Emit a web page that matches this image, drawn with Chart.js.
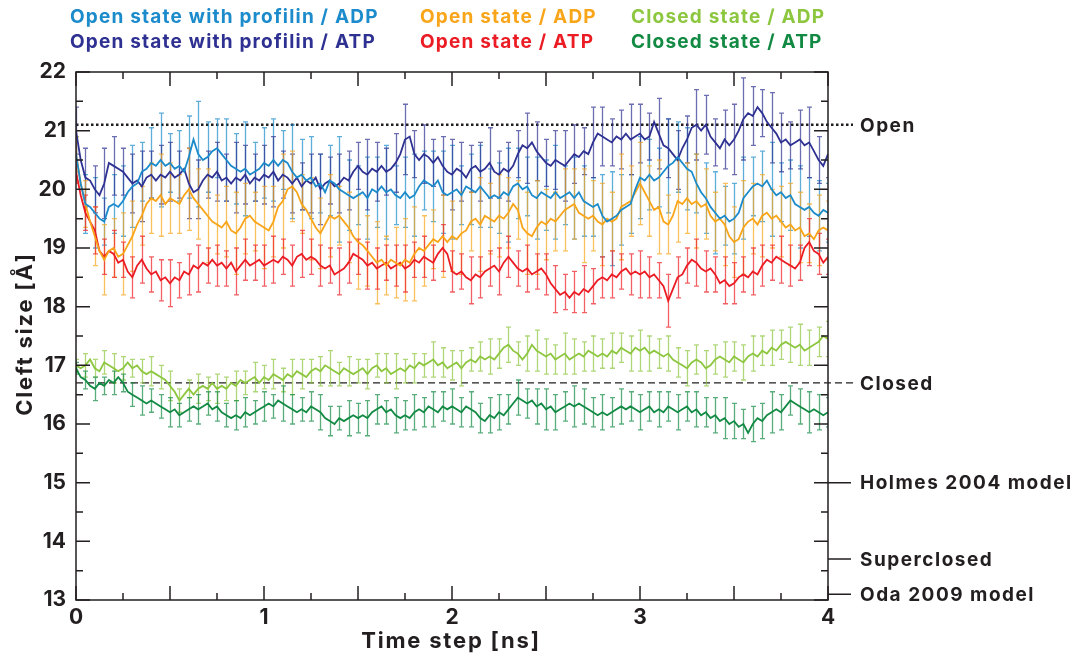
<!DOCTYPE html>
<html>
<head>
<meta charset="utf-8">
<script src="https://cdn.jsdelivr.net/npm/chart.js@4.4.0/dist/chart.umd.min.js"></script>
<style>
  html, body { margin: 0; padding: 0; background: #fff; }
  #wrap { width: 1084px; height: 657px; }
</style>
</head>
<body>
<div id="wrap"><canvas id="cleft" width="1084" height="657"></canvas></div>
<script>
/* ============================================
   Actin cleft size vs. simulation time
   ============================================ */

// sampling step of the traces (ns); error bars on every 2nd sample
const STEP_NS = 0.025;

const seriesNames = [
    'Open state with profilin / ADP', 'Open state with profilin / ATP',
    'Open state / ADP', 'Open state / ATP',
    'Closed state / ADP', 'Closed state / ATP'
];
const seriesColors = ['#1b8bcb', '#2e3192', '#f9a51a', '#ec1c24', '#8dc63f', '#128a43'];

// cleft size [Å], one value per 0.025 ns (each row = 0.5 ns)
const profAdp = [
    20.6, 20.1, 19.75, 19.7, 19.6, 19.5, 19.45, 19.7, 19.75, 19.7, 19.8, 19.95, 20.05, 20.1, 20.3, 20.35, 20.45, 20.4, 20.5, 20.4,
    20.45, 20.35, 20.4, 20.3, 20.55, 20.85, 20.6, 20.5, 20.55, 20.65, 20.7, 20.6, 20.5, 20.4, 20.35, 20.3, 20.35, 20.25, 20.3, 20.35,
    20.45, 20.4, 20.5, 20.4, 20.5, 20.45, 20.3, 20.2, 20.25, 20.15, 20.2, 20.05, 20.1, 19.95, 20.15, 20.1, 20.0, 19.95, 19.9, 19.85,
    19.9, 19.95, 19.85, 20.0, 19.95, 20.05, 19.95, 20.0, 19.9, 19.85, 19.95, 19.85, 19.9, 20.05, 20.15, 20.1, 20.05, 20.15, 19.95, 19.9,
    19.95, 20.0, 19.9, 20.05, 20.0, 19.95, 20.05, 19.95, 19.85, 19.9, 19.85, 19.95, 19.9, 20.05, 20.1, 20.0, 20.05, 19.9, 19.85, 19.95,
    19.9, 19.85, 19.95, 19.85, 19.9, 19.95, 19.85, 19.95, 19.8, 19.75, 19.7, 19.75, 19.55, 19.45, 19.5, 19.55, 19.65, 19.7, 19.75, 20.0,
    20.2, 20.15, 20.25, 20.15, 20.2, 20.3, 20.4, 20.45, 20.55, 20.45, 20.35, 20.3, 20.1, 19.95, 19.85, 19.7, 19.6, 19.5, 19.55, 19.45,
    19.5, 19.6, 19.85, 19.95, 20.05, 20.1, 20.05, 20.15, 20.0, 19.9, 19.95, 19.85, 19.9, 19.75, 19.7, 19.65, 19.7, 19.6, 19.55, 19.65,
    19.6
];
const profAtp = [
    21.0, 20.5, 20.2, 20.15, 20.0, 19.9, 20.1, 20.45, 20.4, 20.35, 20.3, 20.2, 20.1, 20.15, 20.05, 20.2, 20.25, 20.15, 20.25, 20.2,
    20.3, 20.2, 20.25, 20.35, 20.1, 19.95, 20.0, 20.15, 20.25, 20.2, 20.3, 20.15, 20.2, 20.1, 20.2, 20.15, 20.25, 20.1, 20.2, 20.15,
    20.25, 20.2, 20.3, 20.15, 20.25, 20.2, 20.1, 20.2, 20.05, 20.15, 20.1, 20.2, 20.0, 20.1, 20.15, 20.05, 20.1, 20.2, 20.15, 20.3,
    20.4, 20.3, 20.25, 20.35, 20.3, 20.4, 20.3, 20.35, 20.45, 20.6, 20.85, 20.9, 20.6, 20.5, 20.6, 20.55, 20.45, 20.55, 20.4, 20.3,
    20.25, 20.35, 20.3, 20.2, 20.35, 20.4, 20.3, 20.35, 20.45, 20.3, 20.25, 20.35, 20.3, 20.4, 20.6, 20.75, 20.7, 20.8, 20.65, 20.55,
    20.45, 20.4, 20.5, 20.45, 20.4, 20.5, 20.6, 20.55, 20.65, 20.6, 20.8, 20.95, 20.9, 20.85, 20.8, 20.9, 20.85, 20.95, 20.85, 20.9,
    20.95, 20.85, 20.9, 21.15, 20.95, 20.75, 20.7, 20.6, 20.5, 20.7, 20.85, 21.05, 21.1, 21.0, 21.1, 20.9, 20.8, 20.7, 20.85, 20.75,
    20.85, 21.0, 21.2, 21.3, 21.25, 21.4, 21.3, 21.15, 21.05, 20.95, 20.8, 20.85, 20.75, 20.8, 20.85, 20.75, 20.8, 20.65, 20.5, 20.4,
    20.6
];
const openAdp = [
    20.6, 20.1, 19.75, 19.45, 19.2, 18.95, 18.8, 18.95, 19.0, 18.85, 18.9, 19.05, 19.2, 19.4, 19.55, 19.75, 19.85, 19.8, 19.9, 19.75,
    19.85, 19.8, 19.75, 19.9, 20.0, 19.85, 19.75, 19.65, 19.55, 19.45, 19.4, 19.35, 19.45, 19.3, 19.25, 19.35, 19.5, 19.55, 19.45, 19.4,
    19.35, 19.3, 19.45, 19.7, 19.8, 20.0, 20.05, 19.95, 19.75, 19.65, 19.5, 19.35, 19.25, 19.4, 19.55, 19.5, 19.55, 19.45, 19.35, 19.2,
    19.1, 19.05, 18.95, 18.85, 18.75, 18.8, 18.7, 18.8, 18.75, 18.7, 18.8, 18.75, 18.9, 19.0, 18.95, 19.05, 19.15, 19.1, 19.2, 19.1,
    19.2, 19.15, 19.25, 19.3, 19.45, 19.5, 19.4, 19.55, 19.5, 19.45, 19.55, 19.5, 19.6, 19.75, 19.65, 19.35, 19.25, 19.2, 19.35, 19.45,
    19.4, 19.5, 19.45, 19.55, 19.65, 19.7, 19.75, 19.6, 19.55, 19.5, 19.55, 19.45, 19.4, 19.5, 19.45, 19.5, 19.7, 19.75, 19.8, 19.95,
    20.1, 19.95, 19.8, 19.65, 19.7, 19.45, 19.4, 19.55, 19.8, 19.75, 19.85, 19.75, 19.8, 19.7, 19.75, 19.55, 19.45, 19.5, 19.4, 19.2,
    19.1, 19.15, 19.35, 19.45, 19.5, 19.4, 19.55, 19.6, 19.5, 19.55, 19.45, 19.35, 19.4, 19.3, 19.35, 19.2, 19.25, 19.15, 19.3, 19.35,
    19.3
];
const openAtp = [
    20.3, 19.9, 19.6, 19.45, 19.3, 18.95, 18.85, 18.95, 18.9, 18.75, 18.8, 18.6, 18.5, 18.7, 18.8, 18.65, 18.55, 18.6, 18.45, 18.5,
    18.4, 18.5, 18.45, 18.6, 18.55, 18.7, 18.65, 18.75, 18.7, 18.8, 18.7, 18.75, 18.65, 18.75, 18.6, 18.7, 18.8, 18.7, 18.75, 18.8,
    18.7, 18.75, 18.8, 18.75, 18.85, 18.8, 18.7, 18.85, 18.9, 18.8, 18.85, 18.8, 18.7, 18.65, 18.7, 18.55, 18.6, 18.65, 18.75, 18.9,
    18.85, 18.8, 18.7, 18.75, 18.65, 18.7, 18.75, 18.65, 18.7, 18.75, 18.65, 18.7, 18.8, 18.75, 18.85, 18.8, 18.75, 18.9, 19.0, 18.9,
    18.6, 18.55, 18.6, 18.5, 18.45, 18.55, 18.5, 18.6, 18.65, 18.7, 18.6, 18.75, 18.85, 18.75, 18.65, 18.6, 18.65, 18.55, 18.6, 18.65,
    18.55, 18.4, 18.3, 18.2, 18.25, 18.15, 18.25, 18.2, 18.3, 18.25, 18.35, 18.45, 18.5, 18.45, 18.55, 18.5, 18.6, 18.65, 18.55, 18.6,
    18.55, 18.6, 18.5, 18.55, 18.45, 18.35, 18.1, 18.3, 18.5, 18.55, 18.7, 18.8, 18.75, 18.65, 18.6, 18.65, 18.55, 18.4, 18.45, 18.35,
    18.4, 18.5, 18.55, 18.5, 18.6, 18.55, 18.7, 18.8, 18.75, 18.85, 18.8, 18.75, 18.7, 18.65, 18.75, 19.0, 19.1, 18.95, 18.9, 18.75,
    18.85
];
const closedAdp = [
    17.0, 16.95, 17.0, 17.1, 16.95, 16.9, 17.05, 17.0, 16.95, 16.9, 16.95, 17.05, 16.95, 17.0, 16.9, 16.85, 16.9, 16.85, 16.8, 16.75,
    16.65, 16.55, 16.4, 16.5, 16.6, 16.5, 16.6, 16.65, 16.6, 16.7, 16.6, 16.65, 16.6, 16.7, 16.65, 16.75, 16.7, 16.75, 16.8, 16.7,
    16.8, 16.75, 16.85, 16.8, 16.75, 16.85, 16.8, 16.9, 16.85, 16.8, 16.9, 16.95, 16.9, 17.0, 16.95, 16.9, 16.85, 16.95, 16.9, 16.85,
    16.9, 16.95, 16.85, 16.95, 17.0, 16.9, 16.95, 16.85, 16.9, 16.95, 16.9, 17.0, 16.95, 17.05, 17.0, 17.05, 17.1, 17.0, 17.05, 16.95,
    17.0, 17.05, 16.95, 17.05, 17.1, 17.05, 17.15, 17.1, 17.15, 17.1, 17.2, 17.3, 17.35, 17.25, 17.2, 17.1, 17.2, 17.35, 17.25, 17.2,
    17.15, 17.2, 17.1, 17.15, 17.2, 17.1, 17.15, 17.2, 17.15, 17.25, 17.2, 17.15, 17.2, 17.15, 17.25, 17.2, 17.3, 17.25, 17.2, 17.3,
    17.25, 17.3, 17.2, 17.25, 17.2, 17.15, 17.2, 17.1, 17.05, 17.0, 16.95, 17.05, 17.1, 17.05, 16.95, 17.0, 17.1, 17.15, 17.1, 17.05,
    17.15, 17.1, 17.05, 17.15, 17.2, 17.15, 17.25, 17.2, 17.3, 17.25, 17.35, 17.4, 17.35, 17.3, 17.35, 17.25, 17.3, 17.35, 17.4, 17.5,
    17.45
];
const closedAtp = [
    16.95, 16.8, 16.75, 16.65, 16.6, 16.7, 16.65, 16.75, 16.7, 16.8, 16.7, 16.55, 16.5, 16.45, 16.4, 16.35, 16.4, 16.35, 16.3, 16.25,
    16.2, 16.25, 16.15, 16.2, 16.25, 16.3, 16.25, 16.3, 16.35, 16.25, 16.3, 16.2, 16.15, 16.1, 16.15, 16.1, 16.2, 16.15, 16.2, 16.25,
    16.3, 16.35, 16.3, 16.4, 16.35, 16.3, 16.25, 16.2, 16.25, 16.2, 16.3, 16.25, 16.2, 16.1, 16.05, 16.0, 16.1, 16.05, 16.1, 16.15,
    16.1, 16.15, 16.1, 16.2, 16.25, 16.3, 16.2, 16.25, 16.15, 16.1, 16.15, 16.1, 16.2, 16.25, 16.2, 16.3, 16.25, 16.2, 16.3, 16.25,
    16.3, 16.25, 16.2, 16.3, 16.25, 16.2, 16.1, 16.05, 16.15, 16.1, 16.2, 16.15, 16.25, 16.35, 16.45, 16.4, 16.35, 16.4, 16.3, 16.35,
    16.25, 16.3, 16.2, 16.25, 16.3, 16.35, 16.3, 16.35, 16.3, 16.25, 16.2, 16.15, 16.2, 16.15, 16.2, 16.25, 16.3, 16.25, 16.3, 16.25,
    16.2, 16.25, 16.3, 16.2, 16.25, 16.2, 16.3, 16.25, 16.2, 16.25, 16.3, 16.2, 16.25, 16.15, 16.2, 16.1, 16.15, 16.05, 16.1, 16.0,
    16.05, 15.95, 16.0, 15.85, 16.0, 16.1, 16.05, 16.15, 16.2, 16.25, 16.2, 16.3, 16.4, 16.35, 16.3, 16.25, 16.2, 16.25, 16.2, 16.15,
    16.2
];

// error bar half-widths [Å], one per 0.05 ns
const profAdpErr = [
    0.3, 0.5, 0.6, 0.4, 0.5, 0.6, 0.7, 0.5, 0.6, 0.8, 0.5, 0.6, 0.7, 0.9, 0.6, 0.5, 0.7, 0.6, 0.8, 0.5,
    0.6, 0.7, 0.5, 0.8, 0.6, 0.7, 0.5, 0.6, 0.9, 0.6, 0.5, 0.7, 0.6, 0.8, 0.5, 0.6, 0.7, 0.5, 0.6, 0.7,
    0.8, 0.5, 0.6, 0.7, 0.5, 0.6, 0.8, 0.6, 0.5, 0.7, 0.6, 0.8, 0.5, 0.7, 0.6, 0.5, 0.7, 0.8, 0.6, 0.5,
    0.7, 0.6, 0.5, 0.8, 0.6, 0.7, 0.5, 0.6, 0.7, 0.5, 0.6, 0.7, 0.5, 0.6, 0.8, 0.5, 0.6, 0.7, 0.5, 0.6, 0.5
];
const profAtpErr = [
    0.4, 0.5, 0.4, 0.6, 0.5, 0.4, 0.5, 0.6, 0.4, 0.5, 0.5, 0.4, 0.6, 0.5, 0.4, 0.5, 0.4, 0.6, 0.5, 0.4,
    0.5, 0.6, 0.4, 0.5, 0.4, 0.5, 0.6, 0.4, 0.5, 0.5, 0.4, 0.6, 0.5, 0.4, 0.5, 0.6, 0.4, 0.5, 0.4, 0.5,
    0.6, 0.5, 0.4, 0.5, 0.6, 0.4, 0.5, 0.4, 0.6, 0.5, 0.4, 0.5, 0.6, 0.5, 0.4, 0.6, 0.5, 0.4, 0.5, 0.6,
    0.5, 0.4, 0.6, 0.5, 0.5, 0.4, 0.6, 0.5, 0.4, 0.5, 0.6, 0.7, 0.5, 0.4, 0.6, 0.5, 0.4, 0.5, 0.6, 0.4, 0.4
];
const openAdpErr = [
    0.3, 0.4, 0.5, 0.6, 0.5, 0.7, 0.6, 0.5, 0.6, 0.7, 0.6, 0.5, 0.7, 0.6, 0.8, 0.5, 0.6, 0.7, 0.6, 0.5,
    0.7, 0.6, 0.8, 0.6, 0.5, 0.7, 0.6, 0.7, 0.5, 0.6, 0.8, 0.6, 0.7, 0.5, 0.6, 0.7, 0.8, 0.6, 0.5, 0.7,
    0.6, 0.7, 0.5, 0.8, 0.6, 0.7, 0.6, 0.5, 0.7, 0.8, 0.6, 0.5, 0.7, 0.6, 0.8, 0.6, 0.7, 0.5, 0.9, 0.6,
    0.7, 0.6, 0.8, 0.5, 0.7, 0.6, 0.8, 0.6, 0.5, 0.7, 0.6, 0.8, 0.6, 0.7, 0.5, 0.6, 0.7, 0.6, 0.5, 0.6, 0.5
];
const openAtpErr = [
    0.2, 0.3, 0.4, 0.3, 0.4, 0.3, 0.35, 0.4, 0.3, 0.35, 0.4, 0.3, 0.35, 0.4, 0.3, 0.35, 0.3, 0.4, 0.35, 0.3,
    0.35, 0.4, 0.3, 0.35, 0.4, 0.3, 0.35, 0.3, 0.4, 0.35, 0.3, 0.4, 0.35, 0.3, 0.35, 0.4, 0.3, 0.35, 0.3, 0.4,
    0.35, 0.3, 0.4, 0.35, 0.3, 0.4, 0.35, 0.3, 0.4, 0.3, 0.35, 0.4, 0.3, 0.35, 0.4, 0.3, 0.35, 0.4, 0.3, 0.35,
    0.4, 0.35, 0.3, 0.45, 0.35, 0.3, 0.4, 0.35, 0.3, 0.4, 0.35, 0.3, 0.4, 0.35, 0.3, 0.4, 0.35, 0.3, 0.4, 0.35, 0.3
];
const closedAdpErr = [
    0.1, 0.2, 0.15, 0.2, 0.25, 0.2, 0.15, 0.2, 0.25, 0.2, 0.25, 0.2, 0.15, 0.25, 0.2, 0.25, 0.2, 0.25, 0.2, 0.25,
    0.2, 0.25, 0.2, 0.3, 0.25, 0.2, 0.25, 0.3, 0.2, 0.25, 0.2, 0.25, 0.2, 0.25, 0.3, 0.2, 0.25, 0.2, 0.3, 0.25,
    0.25, 0.3, 0.2, 0.25, 0.3, 0.25, 0.3, 0.2, 0.3, 0.35, 0.3, 0.25, 0.35, 0.3, 0.25, 0.3, 0.25, 0.3, 0.25, 0.3,
    0.35, 0.3, 0.25, 0.3, 0.25, 0.3, 0.25, 0.3, 0.25, 0.3, 0.25, 0.3, 0.3, 0.25, 0.3, 0.25, 0.3, 0.35, 0.3, 0.25, 0.3
];
const closedAtpErr = [
    0.1, 0.15, 0.2, 0.15, 0.2, 0.15, 0.2, 0.25, 0.2, 0.2, 0.25, 0.2, 0.2, 0.25, 0.2, 0.25, 0.2, 0.25, 0.25, 0.2,
    0.25, 0.2, 0.3, 0.25, 0.2, 0.25, 0.3, 0.25, 0.2, 0.3, 0.25, 0.3, 0.25, 0.2, 0.3, 0.25, 0.3, 0.25, 0.3, 0.25,
    0.3, 0.25, 0.3, 0.25, 0.3, 0.3, 0.25, 0.3, 0.25, 0.3, 0.35, 0.3, 0.25, 0.35, 0.3, 0.25, 0.3, 0.25, 0.3, 0.25,
    0.3, 0.25, 0.3, 0.25, 0.3, 0.25, 0.3, 0.25, 0.3, 0.35, 0.3, 0.25, 0.3, 0.3, 0.35, 0.3, 0.25, 0.3, 0.35, 0.3, 0.25
];

// reference cleft sizes marked on the right side
const refLabels = ['Open', 'Closed', 'Holmes 2004 model', 'Superclosed', 'Oda 2009 model'];
const refValues = [21.1, 16.7, 15.0, 13.7, 13.1];

const xTicks = [0, 1, 2, 3, 4];
const yTicks = [13, 14, 15, 16, 17, 18, 19, 20, 21, 22];

const seriesValues = [profAdp, profAtp, openAdp, openAtp, closedAdp, closedAtp];
const seriesErrors = [profAdpErr, profAtpErr, openAdpErr, openAtpErr, closedAdpErr, closedAtpErr];

const INK = '#231f20';
const FONT = 'Inter, "DejaVu Sans", sans-serif';

const Plot = {
    render() {
        const datasets = seriesValues.map((vals, i) => ({
            label: seriesNames[i],
            data: vals.map((v, k) => ({ x: +(k * STEP_NS).toFixed(3), y: v })),
            borderColor: seriesColors[i],
            borderWidth: 1.8,
            pointRadius: 0,
            tension: 0
        }));

        new Chart(document.getElementById('cleft'), {
            type: 'line',
            data: { datasets },
            options: {
                responsive: false, animation: false, devicePixelRatio: 1,
                layout: { padding: { top: 72, right: 256, left: 0, bottom: 0 } },
                plugins: { legend: { display: false }, tooltip: { enabled: false } },
                scales: {
                    x: {
                        type: 'linear', min: xTicks[0], max: xTicks[xTicks.length - 1],
                        afterFit: s => { s.height = 57; },
                        afterBuildTicks: s => { s.ticks = xTicks.map(v => ({ value: v })); },
                        grid: { display: false, drawTicks: false }, border: { display: false },
                        ticks: { padding: 5, color: INK, maxRotation: 0, font: { family: FONT, size: 21, weight: 'bold' } }
                    },
                    y: {
                        min: yTicks[0], max: yTicks[yTicks.length - 1],
                        afterFit: s => { s.width = 76; },
                        afterBuildTicks: s => { s.ticks = yTicks.map(v => ({ value: v })); },
                        grid: { display: false, drawTicks: false }, border: { display: false },
                        ticks: { padding: 10, color: INK, font: { family: FONT, size: 21, weight: 'bold' } }
                    }
                }
            },
            plugins: [this._decor]
        });
    },

    _decor: {
        id: 'decor',
        beforeDatasetsDraw(chart) {
            const { ctx, chartArea: a, scales: { x, y } } = chart;
            ctx.save();
            ctx.strokeStyle = INK;
            // "Open" dotted / "Closed" dashed reference lines
            ctx.lineWidth = 2.5; ctx.setLineDash([2.5, 2.5]);
            ctx.beginPath(); ctx.moveTo(a.left, y.getPixelForValue(refValues[0])); ctx.lineTo(853, y.getPixelForValue(refValues[0])); ctx.stroke();
            ctx.lineWidth = 1.3; ctx.setLineDash([7, 4]);
            ctx.beginPath(); ctx.moveTo(a.left, y.getPixelForValue(refValues[1])); ctx.lineTo(853, y.getPixelForValue(refValues[1])); ctx.stroke();
            ctx.setLineDash([]);

            // error bars
            ctx.beginPath(); ctx.rect(a.left, a.top, a.right - a.left, a.bottom - a.top); ctx.clip();
            ctx.lineWidth = 1.3;
            ctx.globalAlpha = 0.7;
            seriesErrors.forEach((err, i) => {
                const pts = chart.data.datasets[i].data;
                ctx.strokeStyle = seriesColors[i];
                ctx.beginPath();
                err.forEach((e, k) => {
                    const p = pts[k * 2];
                    if (!p) return;
                    const px = Math.round(x.getPixelForValue(p.x)) + 0.5;
                    const t = y.getPixelForValue(p.y + e), b = y.getPixelForValue(p.y - e);
                    ctx.moveTo(px, t); ctx.lineTo(px, b);
                    ctx.moveTo(px - 2.5, t); ctx.lineTo(px + 2.5, t);
                    ctx.moveTo(px - 2.5, b); ctx.lineTo(px + 2.5, b);
                });
                ctx.stroke();
            });
            ctx.restore();
        },
        afterDraw(chart) {
            const { ctx, chartArea: a, scales: { x, y } } = chart;
            ctx.save();
            ctx.strokeStyle = INK; ctx.lineWidth = 1.5;
            ctx.strokeRect(a.left, a.top, a.right - a.left, a.bottom - a.top);

            // inward tick marks on all four sides
            ctx.beginPath();
            for (let v = 0; v <= 4.001; v += 0.25) {
                const px = x.getPixelForValue(v), len = Math.abs(v * 2 - Math.round(v * 2)) < 1e-6 ? 14 : 7;
                ctx.moveTo(px, a.bottom); ctx.lineTo(px, a.bottom - len);
                ctx.moveTo(px, a.top); ctx.lineTo(px, a.top + len);
            }
            for (let v = 13; v <= 22.001; v += 0.5) {
                const py = y.getPixelForValue(v), len = Math.abs(v - Math.round(v)) < 1e-6 ? 14 : 7;
                ctx.moveTo(a.left, py); ctx.lineTo(a.left + len, py);
                ctx.moveTo(a.right, py); ctx.lineTo(a.right - len, py);
            }
            // outward marks for the model references
            const hy = y.getPixelForValue(refValues[2]);
            ctx.moveTo(a.right - 14, hy); ctx.lineTo(851, hy);
            [refValues[3], refValues[4]].forEach(v => {
                const py = y.getPixelForValue(v);
                ctx.moveTo(a.right, py); ctx.lineTo(851, py);
            });
            ctx.stroke();

            // reference labels
            ctx.fillStyle = INK;
            ctx.font = `bold 19px ${FONT}`;
            ctx.letterSpacing = '1.5px';
            ctx.textAlign = 'left'; ctx.textBaseline = 'middle';
            refLabels.forEach((lab, i) => ctx.fillText(lab, 860, y.getPixelForValue(refValues[i]) + 1));

            // axis titles
            ctx.font = `bold 22px ${FONT}`;
            ctx.letterSpacing = '1.8px';
            ctx.textAlign = 'center';
            ctx.fillText('Time step [ns]', 451, 641);
            ctx.translate(25, 334); ctx.rotate(-Math.PI / 2);
            ctx.fillText('Cleft size [Å]', 0, 0);
            ctx.setTransform(1, 0, 0, 1, 0, 0);

            // coloured text legend, two rows by three columns
            const colX = [70, 420, 631], rowY = [17, 42];
            ctx.font = `bold 19px ${FONT}`;
            ctx.letterSpacing = '1.2px';
            ctx.textAlign = 'left';
            seriesNames.forEach((name, i) => {
                ctx.fillStyle = seriesColors[i];
                ctx.fillText(name, colX[Math.floor(i / 2)], rowY[i % 2]);
            });
            ctx.restore();
        }
    }
};

Plot.render();
</script>
</body>
</html>
